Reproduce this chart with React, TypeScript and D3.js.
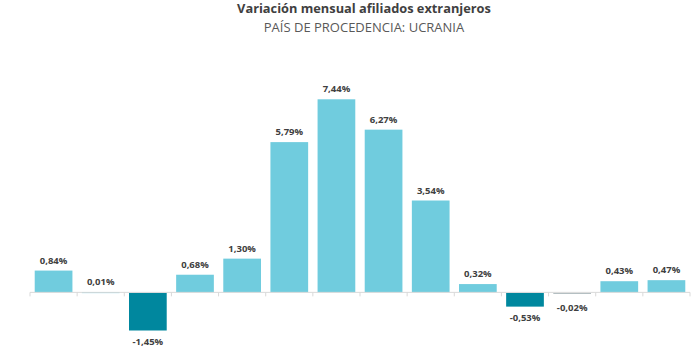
import React from "react";
import * as d3 from "d3";

const categories = ["1","2","3","4","5","6","7","8","9","10","11","12","13","14"];
const values = [0.84, 0.01, -1.45, 0.68, 1.30, 5.79, 7.44, 6.27, 3.54, 0.32, -0.53, -0.02, 0.43, 0.47];
const labels = ["0,84%","0,01%","-1,45%","0,68%","1,30%","5,79%","7,44%","6,27%","3,54%","0,32%","-0,53%","-0,02%","0,43%","0,47%"];
const title = "Variación mensual afiliados extranjeros";
const subtitle = "PAÍS DE PROCEDENCIA: UCRANIA";

export default function App() {
  const W = 700, H = 355;
  const x = d3.scaleBand<string>().domain(categories).range([30, 690]).paddingInner(0.2).paddingOuter(0.1);
  const y = d3.scaleLinear().domain([-1.45, 7.44]).range([330, 99.3]);
  const y0 = y(0);
  const step = x.step();
  const font = "'Open Sans', sans-serif";
  return (
    <svg width={W} height={H} style={{ position: "absolute", left: 0, top: 0, background: "#fff" }}>
      <text x={364} y={13} textAnchor="middle" fontFamily={font} fontWeight="bold" fontSize={12.8} fill="#404040">{title}</text>
      <text x={364} y={32} textAnchor="middle" fontFamily={font} fontSize={13} fill="#595959">{subtitle}</text>
      {values.map((v, i) => {
        const cx = x(categories[i])!;
        const top = Math.min(y(v), y0);
        const h = Math.max(Math.abs(y(v) - y0), 1);
        const color = v < -0.1 ? "#00879E" : v < 0 ? "#aab6ba" : "#70CCDE";
        return <rect key={i} x={cx} y={v < 0 ? y0 + 0.5 : top} width={x.bandwidth()} height={h} fill={color} />;
      })}
      <line x1={30} x2={690} y1={y0} y2={y0} stroke="#d9d9d9" strokeWidth={1} />
      {d3.range(categories.length + 1).map(i => (
        <line key={i} x1={30 + i * step} x2={30 + i * step} y1={y0} y2={y0 + 4} stroke="#d9d9d9" strokeWidth={1} />
      ))}
      {values.map((v, i) => {
        const cx = x(categories[i])! + x.bandwidth() / 2;
        const ty = v >= 0 ? y(v) - 7 : Math.max(y(v), y0 + 4) + 15;
        return <text key={i} x={cx} y={ty} textAnchor="middle" fontFamily={font} fontWeight="bold" fontSize={9.5} fill="#404040">{labels[i]}</text>;
      })}
    </svg>
  );
}
